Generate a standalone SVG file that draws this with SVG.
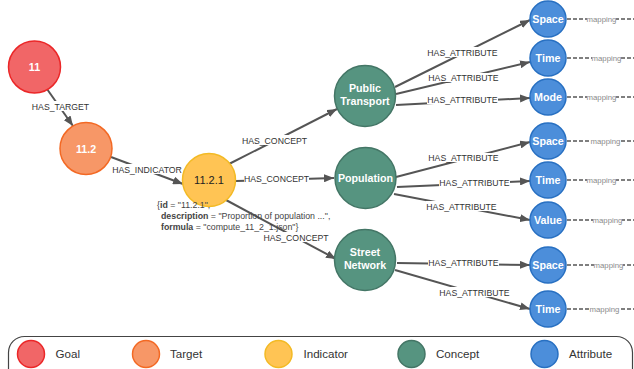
<svg xmlns="http://www.w3.org/2000/svg" width="634" height="369" viewBox="0 0 634 369">
<defs>
<marker id="arr" markerUnits="userSpaceOnUse" markerWidth="11" markerHeight="8" refX="10" refY="4" orient="auto">
<path d="M0,0 L10,4 L0,8 z" fill="#555"/>
</marker>
<style>
.e{stroke:#555;stroke-width:2;fill:none;marker-end:url(#arr)}
.m{stroke:#555;stroke-width:1.5;fill:none;stroke-dasharray:4 2}
.bg{fill:#fff}
.el{font-family:"Liberation Sans",Arial,sans-serif;font-size:8.7px;fill:#333;text-anchor:middle}
.ml{font-family:"Liberation Sans",Arial,sans-serif;font-size:7.8px;fill:#8a8a8a;text-anchor:middle}
.nt{font-family:"Liberation Sans",Arial,sans-serif;font-size:10.7px;font-weight:bold;fill:#fff;text-anchor:middle}
.goal{fill:#F16667;stroke:#EB2728;stroke-width:1.5}
.target{fill:#F79767;stroke:#F36924;stroke-width:1.5}
.ind{fill:#FFC454;stroke:#F3BA25;stroke-width:1.5}
.con{fill:#569480;stroke:#447666;stroke-width:1.5}
.att{fill:#4C8EDA;stroke:#2870C2;stroke-width:1.5}
.lt{font-family:"Liberation Sans",Arial,sans-serif;font-size:11.6px;fill:#333}
.ann{font-family:"Liberation Sans",Arial,sans-serif;font-size:8.8px;fill:#444}
</style>
</defs>
<rect width="634" height="369" fill="#fff"/>
<g id="connectors">
<line class="e" x1="47" y1="89" x2="73" y2="126"/>
<rect class="bg" x="31" y="101" width="59" height="10"/>
<text class="el" x="60.5" y="109.5">HAS_TARGET</text>
<line class="e" x1="111" y1="157" x2="183" y2="184"/>
<rect class="bg" x="112" y="164" width="70" height="10"/>
<text class="el" x="147" y="172.5">HAS_INDICATOR</text>
<line class="e" x1="229" y1="164" x2="337" y2="109"/>
<rect class="bg" x="242" y="135" width="65" height="10"/>
<text class="el" x="274.5" y="143.5">HAS_CONCEPT</text>
<line class="e" x1="236" y1="181" x2="334" y2="178"/>
<rect class="bg" x="244" y="174" width="65" height="9"/>
<text class="el" x="276.5" y="181.5">HAS_CONCEPT</text>
<line class="e" x1="226" y1="200" x2="336" y2="259"/>
<rect class="bg" x="263" y="232" width="66" height="10"/>
<text class="el" x="296" y="240.5">HAS_CONCEPT</text>
<line class="e" x1="395" y1="87" x2="530" y2="20"/>
<rect class="bg" x="427" y="47" width="71" height="10"/>
<text class="el" x="462.5" y="55.5">HAS_ATTRIBUTE</text>
<line class="e" x1="396" y1="94" x2="530" y2="62"/>
<rect class="bg" x="428" y="73" width="71" height="9"/>
<text class="el" x="463.5" y="80.5">HAS_ATTRIBUTE</text>
<line class="e" x1="396" y1="105" x2="530" y2="98"/>
<rect class="bg" x="427" y="95" width="71" height="9"/>
<text class="el" x="462.5" y="102.5">HAS_ATTRIBUTE</text>
<line class="e" x1="396" y1="177" x2="530" y2="142"/>
<rect class="bg" x="428" y="153" width="71" height="9"/>
<text class="el" x="463.5" y="160.5">HAS_ATTRIBUTE</text>
<line class="e" x1="397" y1="187" x2="530" y2="181"/>
<rect class="bg" x="439" y="178" width="71" height="9"/>
<text class="el" x="474.5" y="185.5">HAS_ATTRIBUTE</text>
<line class="e" x1="394" y1="194" x2="530" y2="220"/>
<rect class="bg" x="426" y="201" width="71" height="10"/>
<text class="el" x="461.5" y="209.5">HAS_ATTRIBUTE</text>
<line class="e" x1="397" y1="263" x2="530" y2="265"/>
<rect class="bg" x="428" y="258" width="71" height="9"/>
<text class="el" x="463.5" y="265.5">HAS_ATTRIBUTE</text>
<line class="e" x1="395" y1="270" x2="530" y2="309"/>
<rect class="bg" x="439" y="287" width="71" height="10"/>
<text class="el" x="474.5" y="295.5">HAS_ATTRIBUTE</text>
<line class="m" x1="567" y1="19" x2="634" y2="19"/>
<rect class="bg" x="587" y="15" width="29" height="8"/>
<text class="ml" x="601.5" y="21.7">mapping</text>
<line class="m" x1="567" y1="58" x2="634" y2="58"/>
<rect class="bg" x="592" y="54" width="29" height="8"/>
<text class="ml" x="606.5" y="60.7">mapping</text>
<line class="m" x1="567" y1="97" x2="634" y2="97"/>
<rect class="bg" x="587" y="93" width="29" height="8"/>
<text class="ml" x="601.5" y="99.7">mapping</text>
<line class="m" x1="567" y1="141" x2="634" y2="141"/>
<rect class="bg" x="591" y="137" width="29" height="8"/>
<text class="ml" x="605.5" y="143.7">mapping</text>
<line class="m" x1="567" y1="180" x2="634" y2="180"/>
<rect class="bg" x="587" y="176" width="29" height="8"/>
<text class="ml" x="601.5" y="182.7">mapping</text>
<line class="m" x1="567" y1="220" x2="634" y2="220"/>
<rect class="bg" x="593" y="216" width="29" height="8"/>
<text class="ml" x="607.5" y="222.7">mapping</text>
<line class="m" x1="567" y1="265" x2="634" y2="265"/>
<rect class="bg" x="594" y="261" width="29" height="8"/>
<text class="ml" x="608.5" y="267.7">mapping</text>
<line class="m" x1="567" y1="309" x2="634" y2="309"/>
<rect class="bg" x="590" y="305" width="29" height="8"/>
<text class="ml" x="604.5" y="311.7">mapping</text>
</g>
<g id="n-11"><circle class="goal" cx="34.5" cy="67" r="26"/><text class="nt" x="34.5" y="71">11</text></g>
<g id="n-11-2"><circle class="target" cx="86" cy="148.5" r="26"/><text class="nt" x="86" y="152.5">11.2</text></g>
<g id="n-11-2-1"><circle class="ind" cx="209" cy="180" r="26.5"/><text x="209" y="184" font-family="Liberation Sans, Arial, sans-serif" font-size="11px" fill="#222" text-anchor="middle">11.2.1</text>
<text class="ann" x="157" y="207.5">{<tspan font-weight="bold">id</tspan> = "11.2.1",</text>
<text class="ann" x="161" y="218.5"><tspan font-weight="bold">description</tspan> = "Proportion of population ...",</text>
<text class="ann" x="161" y="229.5"><tspan font-weight="bold">formula</tspan> = "compute_11_2_1.json"}</text>
</g>
<g id="n-public-transport"><circle class="con" cx="365" cy="96" r="30.5"/><text class="nt" x="365" y="92">Public</text><text class="nt" x="365" y="105">Transport</text></g>
<g id="n-population"><circle class="con" cx="365.5" cy="178" r="30.5"/><text class="nt" x="365.5" y="182">Population</text></g>
<g id="n-street-network"><circle class="con" cx="365" cy="260" r="30.5"/><text class="nt" x="365" y="256">Street</text><text class="nt" x="365" y="269">Network</text></g>
<g id="n-space1"><circle class="att" cx="548" cy="19" r="18"/><text class="nt" x="548" y="23">Space</text></g>
<g id="n-time1"><circle class="att" cx="548" cy="58" r="18"/><text class="nt" x="548" y="62">Time</text></g>
<g id="n-mode"><circle class="att" cx="548" cy="97" r="18"/><text class="nt" x="548" y="101">Mode</text></g>
<g id="n-space2"><circle class="att" cx="548" cy="141" r="18"/><text class="nt" x="548" y="145">Space</text></g>
<g id="n-time2"><circle class="att" cx="548" cy="180" r="18"/><text class="nt" x="548" y="184">Time</text></g>
<g id="n-value"><circle class="att" cx="548" cy="220" r="18"/><text class="nt" x="548" y="224">Value</text></g>
<g id="n-space3"><circle class="att" cx="548" cy="265" r="18"/><text class="nt" x="548" y="269">Space</text></g>
<g id="n-time3"><circle class="att" cx="548" cy="309" r="18"/><text class="nt" x="548" y="313">Time</text></g>
<g id="legend">
<rect x="8.5" y="336.5" width="624" height="50" rx="16" fill="none" stroke="#444" stroke-width="1.2"/>
<circle class="goal" cx="31" cy="354" r="13.5"/><text class="lt" x="55.5" y="358">Goal</text>
<circle class="target" cx="146" cy="354" r="13.5"/><text class="lt" x="170" y="358">Target</text>
<circle class="ind" cx="278.5" cy="354" r="13.5"/><text class="lt" x="303.5" y="358">Indicator</text>
<circle class="con" cx="411.5" cy="354" r="13.5"/><text class="lt" x="436" y="358">Concept</text>
<circle class="att" cx="544.5" cy="354" r="13.5"/><text class="lt" x="569" y="358">Attribute</text>
</g>
</svg>
